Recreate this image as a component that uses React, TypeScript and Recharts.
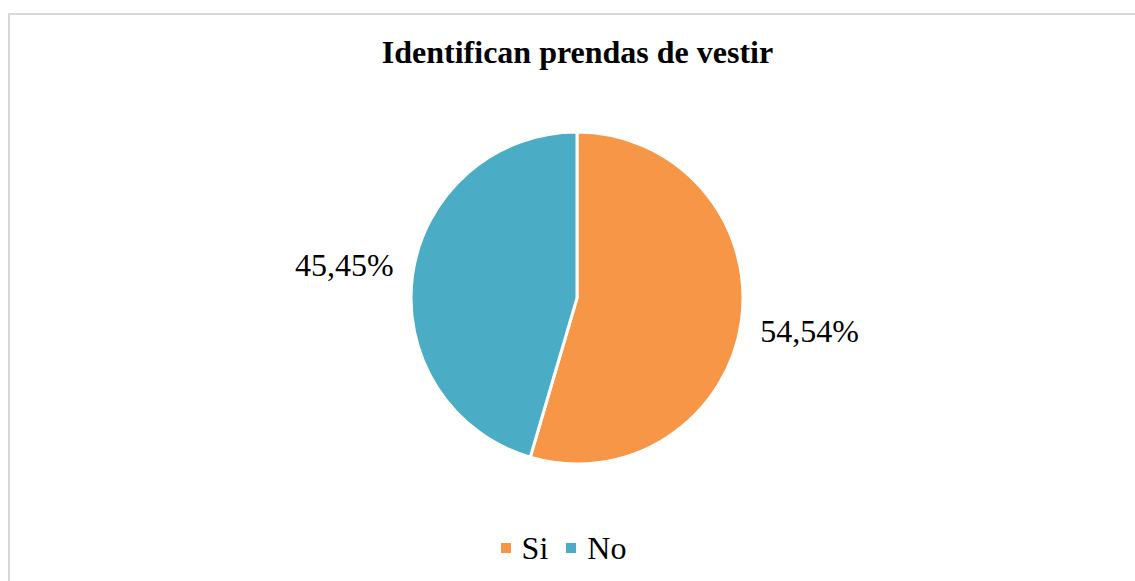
import { PieChart, Pie, Cell } from 'recharts'

// Respuestas y porcentajes
const CATEGORIES = ['Si', 'No']
const VALUES = [54.54, 45.45]
const COLORS = ['#F79646', '#4BACC6']

const TITLE = 'Identifican prendas de vestir'
const FONT = '"Liberation Serif", "Times New Roman", serif'

const RAD = Math.PI / 180

const data = CATEGORIES.map((name, i) => ({ name, value: VALUES[i] }))

const renderLabel = (props: any) => {
  const { cx, cy, midAngle, outerRadius, value } = props
  const r = outerRadius + 69
  const x = cx + r * Math.cos(-midAngle * RAD)
  const y = cy + r * Math.sin(-midAngle * RAD)
  return (
    <text
      x={x}
      y={y}
      textAnchor="middle"
      dominantBaseline="central"
      fill="#000"
      style={{ fontFamily: FONT, fontSize: 32 }}
    >
      {value.toFixed(2).replace('.', ',') + '%'}
    </text>
  )
}

export default function App() {
  return (
    <div style={{ position: 'absolute', left: 0, top: 0, width: 1135, height: 581, overflow: 'hidden', background: '#fff' }}>
      <style>{'body{overflow:hidden}'}</style>
      <div
        style={{
          position: 'absolute', left: 8, top: 13, width: 1130, height: 620,
          border: '2px solid #d9d9d9', boxSizing: 'border-box',
        }}
      />
      <div
        style={{
          position: 'absolute', left: 0, top: 33, width: 1155, textAlign: 'center',
          fontFamily: FONT, fontWeight: 'bold', fontSize: 32, lineHeight: '38px', color: '#000',
        }}
      >
        {TITLE}
      </div>
      <div style={{ position: 'absolute', left: 0, top: 0 }}>
        <PieChart width={1135} height={581} margin={{ top: 0, right: 0, bottom: 0, left: 0 }}>
          <Pie
            data={data}
            dataKey="value"
            nameKey="name"
            cx={577}
            cy={298}
            outerRadius={166}
            startAngle={90}
            endAngle={-270}
            stroke="#fff"
            strokeWidth={3}
            label={renderLabel}
            labelLine={false}
            isAnimationActive={false}
          >
            {data.map((d, i) => (
              <Cell key={d.name} fill={COLORS[i]} />
            ))}
          </Pie>
        </PieChart>
      </div>
      <div
        style={{
          position: 'absolute', left: 0, top: 529, width: 1127, display: 'flex',
          justifyContent: 'center', alignItems: 'center', fontFamily: FONT, fontSize: 32,
          lineHeight: '38px', color: '#000',
        }}
      >
        {data.map((d, i) => (
          <span key={d.name} style={{ display: 'flex', alignItems: 'center', marginRight: i === 0 ? 18 : 0 }}>
            <span style={{ display: 'inline-block', width: 10, height: 10, background: COLORS[i], marginRight: 11 }} />
            {d.name}
          </span>
        ))}
      </div>
    </div>
  )
}
